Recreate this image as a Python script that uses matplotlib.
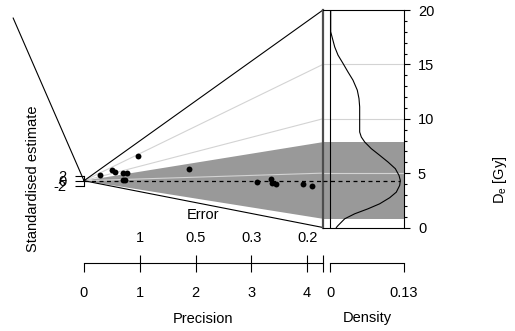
import matplotlib
matplotlib.use("Agg")
import matplotlib.pyplot as plt
import numpy as np

plt.rcParams['font.family'] = ['Liberation Sans', 'DejaVu Sans']
plt.rcParams['font.size'] = 10.5
plt.rcParams['mathtext.fontset'] = 'custom'
plt.rcParams['mathtext.rm'] = 'Liberation Sans'

# equivalent doses and their standard errors
de_values = [12.1, 12.7, 10.47, 8.92, 8.23, 14.34, 4.70, 4.68, 6.75, 4.14, 4.56, 4.03, 3.92, 3.97, 3.79]
de_errors = [3.48, 1.99, 1.80, 1.43, 1.30, 1.03, 1.43, 1.36, 0.53, 0.323, 0.298, 0.297, 0.291, 0.255, 0.245]
central_de = 4.3
band_de = [0.8, 7.85]
grid_de = [5, 10, 15]
de_limits = [0, 20]

# kernel density curve
kde_de = [0, 0.18, 0.8, 1.26, 1.72, 2.18, 2.74, 3.25, 3.87, 4.33, 4.79, 5.41, 6.02, 6.64, 7.25,
          7.86, 8.32, 8.78, 11.09, 11.86, 12.63, 13.55, 14.3, 15.09, 15.85, 16.6, 17.54, 18.0, 20]
kde_dens = [0.0106, 0.0136, 0.0254, 0.043, 0.0665, 0.0871, 0.1048, 0.1164, 0.1224, 0.1235, 0.1212,
            0.1147, 0.1018, 0.0871, 0.0723, 0.0607, 0.0547, 0.0518, 0.0518, 0.0506, 0.0476, 0.040,
            0.0312, 0.0224, 0.0136, 0.0078, 0.003, 0.0007, 0.0007]

precision_ticks = [0, 1, 2, 3, 4]
z_ticks = [-2, 0, 2]
density_ticks = [0, 0.13]
de_ticks = [0, 5, 10, 15, 20]

# left construction line of the abanico frame
zline_x = [-1.27, 0]
zline_y = [64.1, 0]

band_color = '#999999'
grid_color = '#d3d3d3'

de = np.array(de_values)
se = np.array(de_errors)
prec = 1 / se
z = (de - central_de) / se
xmax = prec.max() * 1.05

W, H = 515, 331
fig = plt.figure(figsize=(W / 100, H / 100), dpi=100)
ax = fig.add_axes([84 / W, 103.5 / H, 239 / W, 217.5 / H])
dax = fig.add_axes([323 / W, 103.5 / H, 81 / W, 217.5 / H])

# ---- main (radial) panel
ax.set_xlim(0, xmax)
ax.set_ylim((de_limits[0] - central_de) * xmax, (de_limits[1] - central_de) * xmax)
ax.patch.set_visible(False)

ax.fill([0, xmax, xmax], [0, (band_de[1] - central_de) * xmax, (band_de[0] - central_de) * xmax],
        color=band_color, lw=0, zorder=1)
for g in grid_de:
    ax.plot([0, xmax], [0, (g - central_de) * xmax], color=grid_color, lw=0.8, zorder=2)
for g in de_limits:
    ax.plot([0, xmax], [0, (g - central_de) * xmax], color='black', lw=0.8, zorder=3, clip_on=False)
ax.plot([0, xmax], [0, 0], color='black', lw=0.9, dashes=(3.2, 2.8), zorder=3)
ax.plot(zline_x, zline_y, color='black', lw=0.8, clip_on=False)
ax.scatter(prec, z, s=18, color='black', zorder=5, clip_on=False, linewidths=0)

axis_pos = (331 - 263 - 103.5) / 217.5
label_pos = (331 - 318 - 103.5) / 217.5
for s in ['top', 'right']:
    ax.spines[s].set_visible(False)
ax.spines['bottom'].set_position(('axes', axis_pos))
ax.spines['bottom'].set_bounds(0, xmax)
ax.spines['left'].set_bounds(z_ticks[0], z_ticks[-1])
for s in ['bottom', 'left']:
    ax.spines[s].set_linewidth(0.8)
ax.set_xticks(precision_ticks + [xmax], [str(t) for t in precision_ticks] + [''])
ax.set_yticks(z_ticks, [str(t) for t in z_ticks])
ax.tick_params(axis='x', direction='out', length=6.5, width=0.8, pad=10)
ax.tick_params(axis='y', direction='out', length=6.5, width=0.8, pad=6)
ax.set_xlabel('Precision', labelpad=8.5)

# error axis on top of the precision axis
sec = ax.secondary_xaxis(axis_pos)
sec.set_alignment('top')
for s in sec.spines.values():
    s.set_visible(False)
error_pos = precision_ticks[1:]
sec.set_xticks(error_pos + [xmax], [f'{round(1 / p, 1):g}' for p in error_pos] + [''])
sec.tick_params(axis='x', direction='out', length=5.8, width=0.8, pad=7)
sec.set_xlabel('Error', labelpad=9)

# ---- density panel
dleft = -0.13 * (330.3 - 323) / (404 - 330.3)
dax.set_xlim(dleft, 0.13)
dax.set_ylim(de_limits)
dax.axhspan(band_de[0], band_de[1], color=band_color, lw=0, zorder=1)
for g in grid_de:
    dax.axhline(g, color=grid_color, lw=0.8, zorder=2)
dax.plot([dleft, max(kde_dens)], [central_de, central_de], color='black', lw=0.9,
         dashes=(3.2, 2.8), zorder=3)
dax.axvline(0, color='black', lw=0.8, zorder=3)
dax.plot(kde_dens, kde_de, color='black', lw=0.8, zorder=4)
dax.axhline(de_limits[0], color='black', lw=0.8, clip_on=False, zorder=4)

dax.spines['left'].set_linewidth(1.6)
dax.spines['left'].set_color('#4d4d4d')
dax.spines['top'].set_linewidth(0.8)
dax.spines['right'].set_linewidth(0.8)
dax.spines['bottom'].set_position(('axes', axis_pos))
dax.spines['bottom'].set_bounds(0, 0.13)
dax.spines['bottom'].set_linewidth(0.8)
dax.set_xticks(density_ticks, ['0', '0.13'])
dax.tick_params(axis='x', direction='out', length=6.5, width=0.8, pad=10)
dax.set_xlabel('Density')
dax.xaxis.set_label_coords((0.065 - dleft) / (0.13 - dleft), label_pos)
dax.xaxis.label.set_va('center')

dax.yaxis.tick_right()
dax.set_yticks(de_ticks, [str(t) for t in de_ticks])
dax.set_yticks(np.arange(0, 21, 1), minor=True)
dax.tick_params(axis='y', which='major', direction='out', length=4, width=0.8, pad=6)
dax.tick_params(axis='y', which='minor', direction='out', length=2.2, width=0.8)

fig.text(33 / W, 1 - 179 / H, 'Standardised estimate', rotation=90, ha='center', va='center')
fig.text(500 / W, 1 - 180 / H, r'D$_{\mathrm{e}}$ [Gy]', rotation=90, ha='center', va='center')

fig.savefig('out.png', dpi=100)
